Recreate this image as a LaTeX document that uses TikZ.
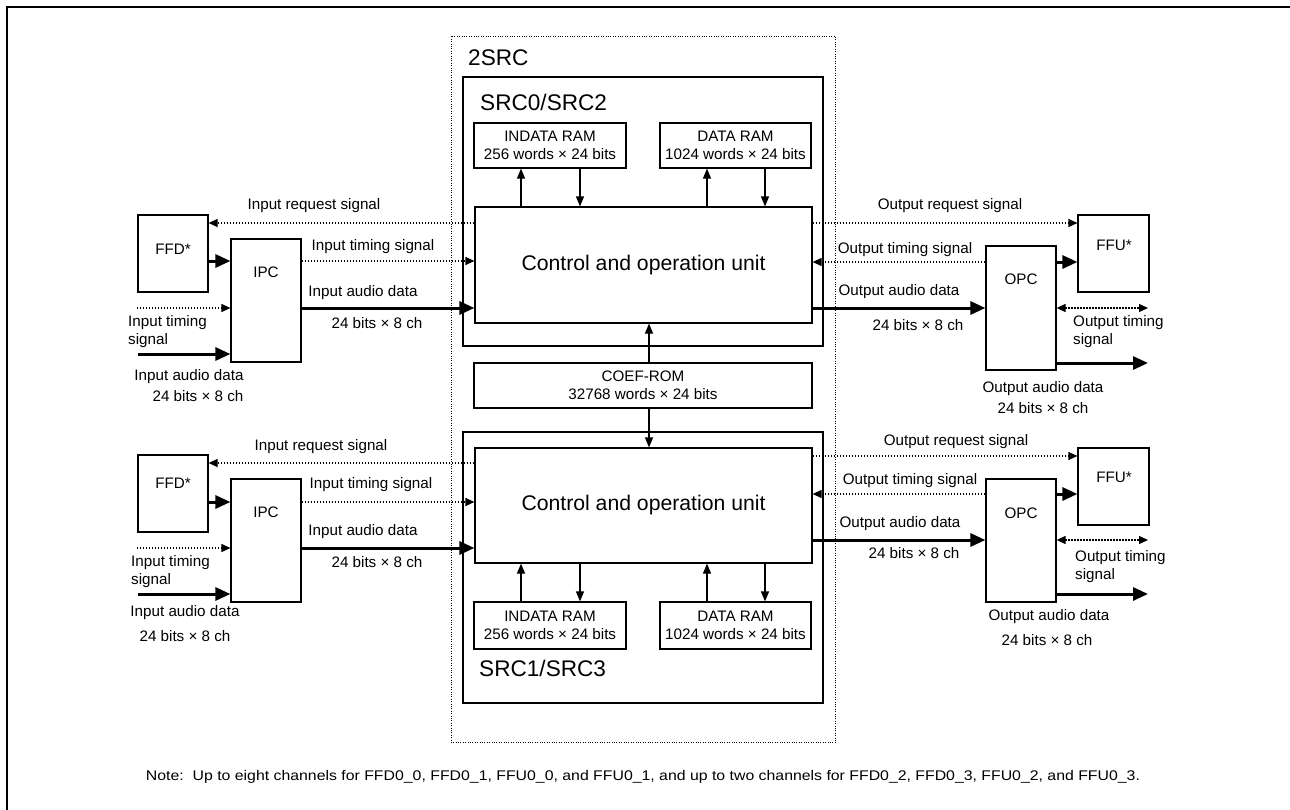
\documentclass[tikz,border=0pt]{standalone}
\usepackage{fontspec}
\setmainfont{Liberation Sans}
\usetikzlibrary{arrows.meta}
\newcommand{\fb}{\fontsize{15.2}{18}\selectfont}
\newcommand{\fc}{\fontsize{21.2}{25}\selectfont}
\newcommand{\fs}{\fontsize{22.6}{27}\selectfont}
\begin{document}
\begin{tikzpicture}[x=1pt,y=-1pt,
  box/.style={draw,line width=1.2pt,rectangle,inner sep=0pt,anchor=center},
  txt/.style={inner sep=0pt,anchor=center,font=\fb,align=center},
  ltxt/.style={inner sep=0pt,anchor=west,font=\fb,align=left},
  dots/.style={line width=1.2pt,dash pattern=on 1.2pt off 1.8pt},
  thin/.style={line width=1.2pt,-{Triangle[length=10pt,width=8pt]}},
  dsig/.style={dots,-{Triangle[length=9pt,width=8pt]}},
  dsigb/.style={dots,{Triangle[length=9pt,width=8pt]}-{Triangle[length=9pt,width=8pt]}},
  thick3/.style={line width=3pt,-{Triangle[length=15pt,width=13pt]}}
]
\useasboundingbox (0,0) rectangle (1290,809);
\fill[white] (0,0) rectangle (1290,809);
% outer frame (only top and left visible)
\draw[line width=2pt] (7,815) -- (7,7) -- (1296,7);

% 2SRC dotted frame
\node[box,draw=none,minimum width=383pt,minimum height=705pt] (two) at (643.5,389.5) {};
\draw[line width=1pt,dash pattern=on 1pt off 1.4pt] (two.north west) rectangle (two.south east);
\node[inner sep=0pt,anchor=west,font=\fs] (twot) at (468,58) {2SRC};

% SRC boxes
\node[box,minimum width=360pt,minimum height=269pt] (srcA) at (643,211.5) {};
\node[inner sep=0pt,anchor=west,font=\fs] (srcAt) at (480,102) {SRC0/SRC2};
\node[box,minimum width=360pt,minimum height=271pt] (srcB) at (643,567.5) {};
\node[inner sep=0pt,anchor=west,font=\fs] (srcBt) at (479,668) {SRC1/SRC3};

% RAMs
\node[box,minimum width=152pt,minimum height=45pt,font=\fb,align=center] (indA) at (550,145.5) {INDATA RAM\\256 words × 24 bits};
\node[box,minimum width=151pt,minimum height=45pt,font=\fb,align=center] (datA) at (735.5,145.5) {DATA RAM\\1024 words × 24 bits};
\node[box,minimum width=152pt,minimum height=47pt,font=\fb,align=center] (indB) at (550,625.5) {INDATA RAM\\256 words × 24 bits};
\node[box,minimum width=151pt,minimum height=47pt,font=\fb,align=center] (datB) at (735.5,625.5) {DATA RAM\\1024 words × 24 bits};

% control units
\node[box,minimum width=337pt,minimum height=116pt,font=\fc] (ctlA) at (643.5,265) {Control and operation unit};
\node[box,minimum width=337pt,minimum height=115pt,font=\fc] (ctlB) at (643.5,505.5) {Control and operation unit};

% COEF-ROM
\node[box,minimum width=338pt,minimum height=45pt,font=\fb,align=center] (coef) at (643,385.5) {COEF-ROM\\32768 words × 24 bits};

% left blocks
\node[box,minimum width=70pt,minimum height=77pt] (ffdA) at (173,253.5) {};
\node[txt] (ffdAt) at (173,249) {FFD*};
\node[box,minimum width=70pt,minimum height=123pt] (ipcA) at (266,300.5) {};
\node[txt] (ipcAt) at (266,272) {IPC};
\node[box,minimum width=70pt,minimum height=77pt] (ffdB) at (173,493.5) {};
\node[txt] (ffdBt) at (173,483) {FFD*};
\node[box,minimum width=70pt,minimum height=123pt] (ipcB) at (266,540.5) {};
\node[txt] (ipcBt) at (266,512) {IPC};

% right blocks
\node[box,minimum width=71pt,minimum height=77pt] (ffuA) at (1113.5,253.5) {};
\node[txt] (ffuAt) at (1114,245) {FFU*};
\node[box,minimum width=70pt,minimum height=124pt] (opcA) at (1021,308) {};
\node[txt] (opcAt) at (1021,279) {OPC};
\node[box,minimum width=71pt,minimum height=77pt] (ffuB) at (1113.5,486.5) {};
\node[txt] (ffuBt) at (1114,477) {FFU*};
\node[box,minimum width=70pt,minimum height=123pt] (opcB) at (1021,540.5) {};
\node[txt] (opcBt) at (1021,513) {OPC};

% free ends
\coordinate (inTA) at (137,308);
\coordinate (inDA) at (138,354);
\coordinate (inTB) at (137,548);
\coordinate (inDB) at (138,594);
\coordinate (outTA) at (1148,308);
\coordinate (outDA) at (1148,363);
\coordinate (outTB) at (1148,540);
\coordinate (outDB) at (1148,594);

% RAM arrows upper
\draw[thin] (ctlA.north -| 521,0) -- (indA.south -| 521,0);
\draw[thin] (indA.south -| 580,0) -- (ctlA.north -| 580,0);
\draw[thin] (ctlA.north -| 707,0) -- (datA.south -| 707,0);
\draw[thin] (datA.south -| 765,0) -- (ctlA.north -| 765,0);
% RAM arrows lower
\draw[thin] (indB.north -| 521,0) -- (ctlB.south -| 521,0);
\draw[thin] (ctlB.south -| 580,0) -- (indB.north -| 580,0);
\draw[thin] (datB.north -| 707,0) -- (ctlB.south -| 707,0);
\draw[thin] (ctlB.south -| 765,0) -- (datB.north -| 765,0);
% COEF arrows
\draw[thin] (coef.north -| 649,0) -- (ctlA.south -| 649,0);
\draw[thin] (coef.south -| 649,0) -- (ctlB.north -| 649,0);

% upper left signals
\draw[dsig] (ctlA.west |- 0,223) -- (ffdA.east |- 0,223);
\draw[thick3] (ffdA.east |- 0,261) -- (ipcA.west |- 0,261);
\draw[dsig] (ipcA.east |- 0,261) -- (ctlA.west |- 0,261);
\draw[thick3] (ipcA.east |- 0,308) -- (ctlA.west |- 0,308);
\draw[dsig] (inTA) -- (ipcA.west |- inTA);
\draw[thick3] (inDA) -- (ipcA.west |- inDA);
% upper right signals
\draw[dsig] (ctlA.east |- 0,223) -- (ffuA.west |- 0,223);
\draw[dsig] (opcA.west |- 0,262) -- (ctlA.east |- 0,262);
\draw[thick3] (opcA.east |- 0,262) -- (ffuA.west |- 0,262);
\draw[thick3] (ctlA.east |- 0,308) -- (opcA.west |- 0,308);
\draw[dsigb] (opcA.east |- outTA) -- (outTA);
\draw[thick3] (opcA.east |- outDA) -- (outDA);

% lower left signals
\draw[dsig] (ctlB.west |- 0,463) -- (ffdB.east |- 0,463);
\draw[thick3] (ffdB.east |- 0,502) -- (ipcB.west |- 0,502);
\draw[dsig] (ipcB.east |- 0,502) -- (ctlB.west |- 0,502);
\draw[thick3] (ipcB.east |- 0,548) -- (ctlB.west |- 0,548);
\draw[dsig] (inTB) -- (ipcB.west |- inTB);
\draw[thick3] (inDB) -- (ipcB.west |- inDB);
% lower right signals
\draw[dsig] (ctlB.east |- 0,456) -- (ffuB.west |- 0,456);
\draw[dsig] (opcB.west |- 0,494) -- (ctlB.east |- 0,494);
\draw[thick3] (opcB.east |- 0,494) -- (ffuB.west |- 0,494);
\draw[thick3] (ctlB.east |- 0,540) -- (opcB.west |- 0,540);
\draw[dsigb] (opcB.east |- outTB) -- (outTB);
\draw[thick3] (opcB.east |- outDB) -- (outDB);

% labels upper left
\node[txt] (l1) at (314,206) {Input request signal};
\node[txt] (l2) at (373,247) {Input timing signal};
\node[txt] (l3) at (363,293) {Input audio data};
\node[txt] (l4) at (377,323) {24 bits × 8 ch};
\node[ltxt] (l5) at (128,332) {Input timing\\signal};
\node[txt] (l6) at (189,377) {Input audio data};
\node[txt] (l7) at (198,396) {24 bits × 8 ch};
% labels upper right
\node[txt] (r1) at (950,206) {Output request signal};
\node[txt] (r2) at (905,250) {Output timing signal};
\node[txt] (r3) at (899,292) {Output audio data};
\node[txt] (r4) at (918,325) {24 bits × 8 ch};
\node[ltxt] (r5) at (1073,332) {Output timing\\signal};
\node[txt] (r6) at (1043,389) {Output audio data};
\node[txt] (r7) at (1043,408) {24 bits × 8 ch};
% labels lower left
\node[txt] (m1) at (321,447) {Input request signal};
\node[txt] (m2) at (371,485) {Input timing signal};
\node[txt] (m3) at (363,532) {Input audio data};
\node[txt] (m4) at (377,562) {24 bits × 8 ch};
\node[ltxt] (m5) at (131,572) {Input timing\\signal};
\node[txt] (m6) at (185,613) {Input audio data};
\node[txt] (m7) at (185,636) {24 bits × 8 ch};
% labels lower right
\node[txt] (n1) at (956,442) {Output request signal};
\node[txt] (n2) at (910,481) {Output timing signal};
\node[txt] (n3) at (900,524) {Output audio data};
\node[txt] (n4) at (914,553) {24 bits × 8 ch};
\node[ltxt] (n5) at (1075,566.5) {Output timing\\signal};
\node[txt] (n6) at (1049,617) {Output audio data};
\node[txt] (n7) at (1047,640) {24 bits × 8 ch};

% note
\node[inner sep=0pt,anchor=center] (note) at (643,777) {\resizebox{994pt}{\height}{\fontsize{14}{16}\selectfont Note:\ \ Up to eight channels for FFD0\_0, FFD0\_1, FFU0\_0, and FFU0\_1, and up to two channels for FFD0\_2, FFD0\_3, FFU0\_2, and FFU0\_3.}};
\end{tikzpicture}
\end{document}
